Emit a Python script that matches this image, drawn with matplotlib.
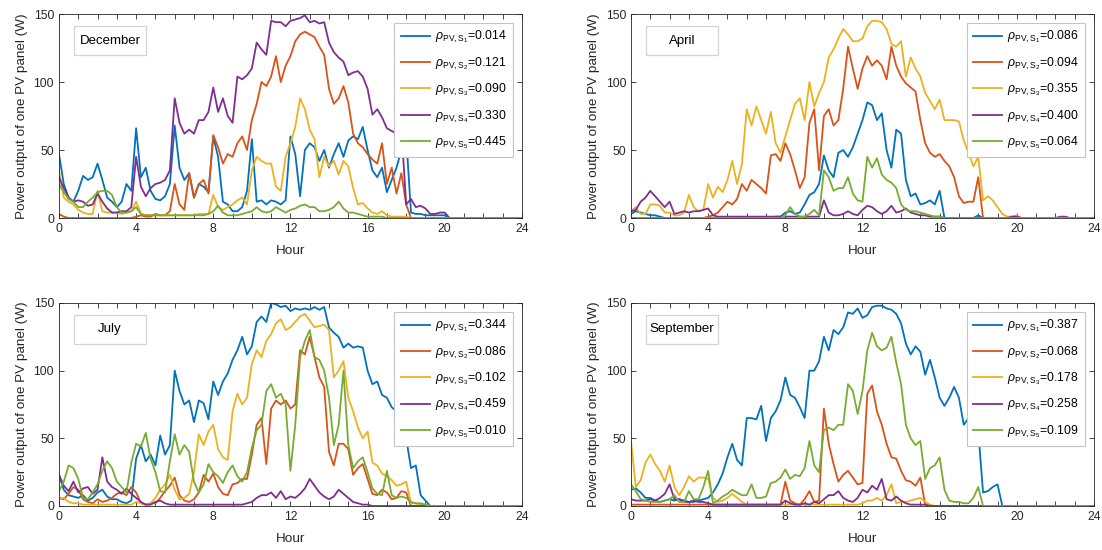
import numpy as np
import matplotlib.pyplot as plt
from matplotlib.patches import Rectangle

plt.rcParams['font.family'] = ['Liberation Sans', 'DejaVu Sans']
plt.rcParams['mathtext.fontset'] = 'custom'
plt.rcParams['mathtext.rm'] = 'Liberation Sans'
plt.rcParams['mathtext.it'] = 'Liberation Sans:italic'

# 15 min sampling, values in W; series stop once the output stays at zero
step = 0.25
hours = np.arange(0, 24 + step / 2, step)

# December
dec_s1 = [47, 25, 15, 12, 20, 31, 28, 30, 40, 28, 15, 12,
          8, 12, 25, 20, 66, 30, 37, 20, 14, 13, 16, 25,
          68, 37, 28, 33, 15, 25, 23, 19, 60, 45, 12, 10,
          5, 5, 8, 20, 58, 12, 13, 10, 13, 12, 10, 13,
          60, 47, 16, 50, 55, 52, 42, 50, 37, 47, 55, 45,
          57, 60, 58, 67, 50, 35, 30, 37, 19, 28, 37, 50,
          60, 4, 3, 3, 2, 2, 2, 2, 2]
dec_s2 = [3, 1, 0, 0, 0, 0, 0, 0, 0, 0, 0, 0,
          0, 0, 0, 0, 1, 2, 1, 1, 3, 2, 2, 5,
          25, 10, 6, 33, 15, 25, 28, 18, 61, 52, 40, 47,
          45, 55, 60, 50, 72, 84, 100, 97, 104, 119, 100, 112,
          119, 130, 135, 137, 135, 133, 126, 120, 95, 84, 88, 97,
          85, 62, 55, 52, 47, 43, 40, 55, 25, 37, 18, 33,
          10]
dec_s3 = [35, 15, 12, 10, 6, 4, 3, 3, 20, 5, 4, 4,
          4, 3, 4, 5, 12, 3, 2, 2, 2, 2, 2, 2,
          2, 2, 2, 2, 2, 3, 3, 3, 17, 8, 6, 8,
          10, 13, 15, 10, 35, 45, 42, 40, 40, 23, 20, 45,
          55, 67, 88, 80, 65, 58, 30, 45, 38, 42, 32, 42,
          38, 22, 10, 11, 7, 4, 3, 5, 2, 1, 1, 1,
          1]
dec_s4 = [30, 22, 15, 12, 13, 12, 9, 10, 18, 12, 7, 4,
          4, 5, 5, 8, 45, 23, 16, 22, 25, 26, 28, 35,
          88, 70, 62, 65, 62, 72, 72, 78, 96, 78, 88, 75,
          70, 104, 102, 105, 110, 129, 124, 120, 145, 144, 144, 141,
          145, 146, 147, 149, 144, 145, 143, 144, 129, 122, 118, 115,
          105, 107, 108, 104, 95, 76, 80, 74, 66, 64, 62, 66,
          10, 14, 8, 9, 7, 3, 3, 4, 4]
dec_s5 = [25, 19, 14, 12, 8, 8, 12, 15, 19, 20, 20, 17,
          8, 4, 4, 5, 8, 3, 2, 2, 2, 2, 2, 2,
          2, 2, 2, 2, 2, 2, 2, 3, 5, 9, 4, 2,
          2, 2, 3, 4, 5, 8, 5, 4, 5, 8, 6, 4,
          6, 7, 9, 10, 8, 8, 5, 5, 6, 8, 12, 7,
          4, 4, 3, 2, 1, 1, 1, 1]
dec_rho = ['0.014', '0.121', '0.090', '0.330', '0.445']

# April
apr_s1 = [3, 5, 4, 3, 2, 2, 1, 0, 0, 0, 0, 0,
          0, 0, 0, 0, 0, 0, 0, 0, 0, 0, 0, 0,
          0, 0, 0, 0, 0, 0, 1, 1, 4, 5, 3, 4,
          10, 17, 19, 25, 46, 35, 30, 48, 50, 45, 52, 62,
          72, 85, 83, 72, 77, 50, 37, 65, 62, 28, 16, 18,
          10, 11, 13, 10, 20, 0, 0, 0, 0, 0, 0, 0,
          2]
apr_s2 = [0, 0, 0, 0, 0, 0, 0, 0, 0, 0, 0, 0,
          0, 0, 0, 0, 1, 2, 4, 8, 12, 10, 14, 25,
          20, 28, 25, 22, 18, 46, 47, 42, 55, 47, 35, 22,
          30, 70, 80, 35, 75, 80, 68, 72, 95, 126, 110, 95,
          110, 119, 112, 116, 112, 102, 126, 112, 104, 99, 96, 93,
          72, 55, 48, 45, 47, 42, 38, 30, 16, 11, 12, 12,
          30]
apr_s3 = [5, 8, 3, 3, 10, 10, 9, 4, 4, 2, 2, 4,
          17, 8, 5, 6, 25, 15, 23, 19, 28, 42, 25, 40,
          80, 68, 82, 72, 62, 78, 55, 48, 60, 72, 84, 88,
          72, 100, 82, 92, 100, 118, 124, 132, 139, 135, 130, 130,
          132, 141, 145, 145, 144, 139, 128, 126, 130, 104, 118, 110,
          104, 92, 86, 80, 87, 72, 72, 72, 71, 57, 48, 38,
          45, 13, 16, 13, 8, 3, 1, 1, 2]
apr_s4 = [5, 6, 12, 15, 20, 16, 12, 8, 12, 3, 4, 5,
          4, 5, 5, 6, 7, 2, 1, 1, 1, 1, 1, 1,
          1, 1, 1, 1, 1, 1, 1, 1, 1, 1, 1, 1,
          1, 1, 1, 1, 13, 4, 2, 2, 3, 5, 3, 2,
          6, 9, 8, 5, 3, 5, 9, 4, 5, 7, 4, 3,
          2, 2, 1, 1, 1, 0, 0, 0, 0, 0, 0, 0,
          0, 0, 0, 0, 0, 0, 0, 1, 1, 0, 0, 0,
          0, 0, 0, 0, 0, 1, 1]
apr_s5 = [0, 0, 0, 0, 0, 0, 0, 0, 0, 0, 0, 0,
          0, 0, 0, 0, 0, 0, 0, 0, 0, 0, 0, 0,
          0, 0, 0, 0, 0, 0, 0, 0, 2, 8, 3, 1,
          1, 3, 6, 2, 35, 30, 20, 22, 22, 30, 18, 13,
          12, 45, 37, 44, 32, 28, 26, 22, 10, 6, 5, 5,
          4, 3, 2, 1, 1]
apr_rho = ['0.086', '0.094', '0.355', '0.400', '0.064']

# July
jul_s1 = [23, 12, 8, 7, 6, 8, 4, 6, 10, 12, 7, 5,
          5, 3, 2, 4, 35, 45, 33, 38, 30, 52, 38, 45,
          100, 85, 75, 78, 62, 78, 76, 64, 92, 82, 92, 98,
          108, 115, 125, 112, 118, 136, 140, 136, 150, 149, 147, 148,
          144, 146, 145, 146, 145, 147, 145, 147, 132, 128, 125, 117,
          120, 117, 118, 117, 100, 90, 92, 82, 80, 73, 70, 58,
          50, 28, 30, 8, 4]
jul_s2 = [6, 5, 9, 14, 12, 5, 3, 2, 5, 3, 4, 6,
          9, 10, 8, 14, 10, 2, 1, 2, 2, 6, 11, 15,
          21, 8, 4, 3, 5, 10, 23, 18, 24, 14, 9, 8,
          16, 17, 20, 20, 38, 60, 65, 31, 72, 78, 75, 78,
          72, 75, 115, 112, 125, 110, 95, 88, 40, 30, 46, 46,
          42, 23, 28, 31, 20, 9, 8, 12, 10, 5, 6, 11,
          10]
jul_s3 = [5, 6, 3, 2, 2, 1, 1, 1, 1, 1, 1, 1,
          1, 1, 1, 1, 3, 2, 1, 2, 6, 12, 16, 23,
          12, 5, 6, 9, 25, 53, 45, 55, 60, 42, 36, 34,
          70, 83, 75, 80, 105, 115, 110, 122, 127, 135, 138, 130,
          132, 136, 140, 142, 137, 132, 133, 134, 130, 95, 100, 107,
          80, 70, 58, 50, 55, 32, 30, 24, 22, 19, 15, 16,
          18, 2, 2, 1, 1]
jul_s4 = [23, 15, 11, 18, 10, 13, 14, 9, 12, 36, 18, 14,
          12, 9, 13, 9, 6, 3, 1, 1, 3, 4, 2, 1,
          1, 1, 1, 1, 1, 1, 1, 1, 1, 1, 1, 1,
          1, 1, 1, 2, 3, 6, 8, 8, 10, 6, 11, 5,
          7, 6, 9, 13, 20, 15, 10, 7, 5, 7, 12, 9,
          6, 3, 2, 1, 1]
jul_s5 = [11, 18, 30, 28, 20, 6, 5, 10, 16, 26, 33, 28,
          18, 14, 10, 32, 46, 44, 54, 35, 25, 11, 10, 33,
          53, 38, 45, 40, 18, 10, 16, 31, 25, 22, 17, 25,
          30, 22, 18, 25, 43, 56, 60, 85, 90, 80, 83, 75,
          26, 60, 110, 122, 130, 110, 108, 100, 80, 45, 60, 100,
          45, 28, 33, 36, 25, 13, 9, 8, 26, 8, 6, 7,
          6, 3, 2, 2, 1]
jul_rho = ['0.344', '0.086', '0.102', '0.459', '0.010']

# September
sep_s1 = [12, 13, 10, 6, 6, 4, 3, 4, 5, 4, 5, 4,
          3, 3, 4, 5, 6, 10, 16, 24, 36, 46, 34, 30,
          65, 65, 64, 74, 48, 65, 70, 78, 95, 82, 80, 73,
          65, 100, 100, 107, 125, 115, 130, 127, 132, 143, 142, 146,
          139, 141, 147, 148, 148, 146, 145, 142, 135, 120, 112, 118,
          114, 97, 108, 95, 80, 74, 80, 88, 80, 60, 65, 62,
          56, 10, 11, 14, 16]
sep_s2 = [1, 1, 1, 1, 1, 1, 1, 1, 1, 1, 1, 1,
          1, 1, 1, 1, 1, 1, 1, 1, 1, 1, 1, 1,
          1, 1, 1, 1, 1, 1, 1, 1, 18, 4, 2, 1,
          5, 11, 3, 4, 72, 46, 31, 18, 23, 26, 21, 16,
          17, 83, 89, 70, 60, 46, 36, 35, 26, 19, 18, 15,
          21, 1]
sep_s3 = [48, 14, 19, 32, 38, 31, 26, 18, 30, 14, 8, 14,
          22, 18, 21, 21, 20, 6, 3, 4, 6, 9, 6, 3,
          1, 1, 1, 1, 1, 1, 1, 1, 1, 1, 1, 1,
          1, 1, 1, 1, 1, 1, 1, 1, 1, 1, 1, 1,
          2, 4, 4, 6, 4, 8, 16, 2, 3, 3, 4, 5,
          6, 3, 1]
sep_s4 = [5, 4, 4, 4, 5, 4, 6, 9, 16, 5, 5, 3,
          3, 4, 3, 3, 2, 1, 1, 1, 1, 1, 1, 1,
          1, 1, 1, 1, 1, 1, 1, 1, 4, 2, 1, 1,
          2, 1, 3, 2, 5, 8, 8, 11, 6, 4, 3, 6,
          12, 10, 15, 12, 20, 5, 4, 7, 4, 2, 1, 1,
          1, 1]
sep_s5 = [16, 11, 5, 4, 3, 3, 3, 4, 5, 8, 3, 3,
          11, 5, 5, 14, 26, 2, 4, 7, 9, 12, 10, 8,
          8, 16, 6, 6, 7, 17, 18, 21, 27, 20, 23, 22,
          28, 48, 30, 25, 56, 58, 56, 60, 60, 90, 85, 68,
          85, 115, 128, 118, 115, 117, 125, 106, 90, 60, 50, 45,
          48, 20, 28, 30, 36, 12, 4, 3, 3, 2, 2, 6,
          14]
sep_rho = ['0.387', '0.068', '0.178', '0.258', '0.109']

colors = ['#0072BD', '#D95319', '#EDB120', '#7E2F8E', '#77AC30']
axis_grey = '#262626'


def full_day(vals):
    # pad with zeros up to midnight
    vals = np.asarray(vals, float)
    return np.concatenate([vals, np.zeros(len(hours) - len(vals))])


panels = [
    ([0.0535, 0.6036, 0.4201, 0.3709], 'December',
     [dec_s1, dec_s2, dec_s3, dec_s4, dec_s5], dec_rho),
    ([0.5726, 0.6036, 0.4201, 0.3709], 'April',
     [apr_s1, apr_s2, apr_s3, apr_s4, apr_s5], apr_rho),
    ([0.0535, 0.0800, 0.4201, 0.3691], 'July',
     [jul_s1, jul_s2, jul_s3, jul_s4, jul_s5], jul_rho),
    ([0.5726, 0.0800, 0.4201, 0.3691], 'September',
     [sep_s1, sep_s2, sep_s3, sep_s4, sep_s5], sep_rho),
]

fig = plt.figure(figsize=(11.02, 5.5), dpi=100)

for pos, month, series, rhos in panels:
    ax = fig.add_axes(pos)
    for k, (vals, c, r) in enumerate(zip(series, colors, rhos)):
        lab = r'$\rho_{\mathrm{PV,S}_{%d}}$=%s' % (k + 1, r)
        ax.plot(hours, full_day(vals), color=c, lw=1.3, label=lab)

    ax.set_xlim(0, 24)
    ax.set_ylim(0, 150)
    ax.set_xticks(np.arange(0, 25, 1))
    ax.set_xticklabels([str(h) if h % 4 == 0 else '' for h in range(25)])
    ax.set_yticks([0, 50, 100, 150])
    ax.tick_params(direction='in', top=True, right=True, length=3.5,
                   width=0.6, color=axis_grey, labelcolor=axis_grey,
                   labelsize=8.7)
    for sp in ax.spines.values():
        sp.set_color(axis_grey)
        sp.set_linewidth(0.6)

    ax.set_xlabel('Hour', fontsize=9.7, color=axis_grey, labelpad=7)
    ax.set_ylabel('Power output of one PV panel (W)', fontsize=9.7,
                  color=axis_grey)

    leg = ax.legend(loc='upper right', bbox_to_anchor=(0.98, 0.957),
                    borderaxespad=0, fontsize=8.8, handlelength=2.4,
                    handletextpad=0.4, labelspacing=0.8, borderpad=0.5,
                    fancybox=False, framealpha=1, edgecolor='#c4c4c4')
    leg.get_frame().set_linewidth(0.8)

    # month tag
    ax.add_patch(Rectangle((0.032, 0.80), 0.156, 0.14, transform=ax.transAxes,
                           facecolor='white', edgecolor='#d4d4d4', lw=0.9,
                           zorder=5))
    ax.text(0.11, 0.87, month, transform=ax.transAxes, ha='center',
            va='center', fontsize=9.5, color='black', zorder=6)

fig.savefig('out.png', dpi=100)
